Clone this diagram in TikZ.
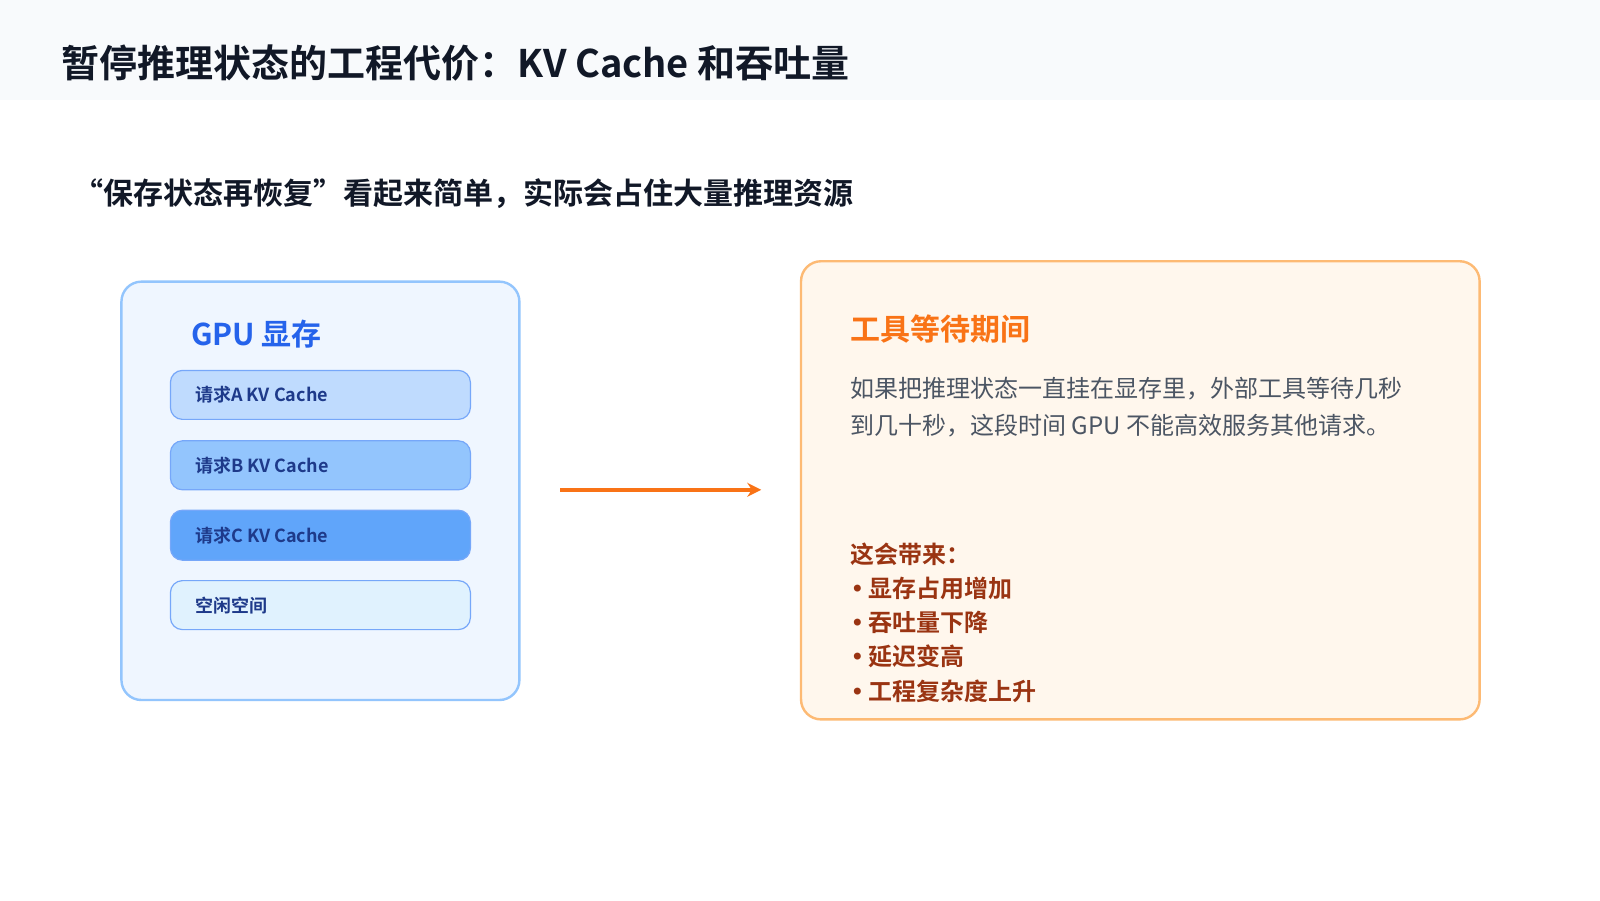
\documentclass[tikz,border=0pt]{standalone}
\usepackage{fontspec}
\setmainfont{Noto Sans CJK SC}
\newfontfamily\cjkb{Noto Sans CJK SC Bold}
\newfontfamily\dv{DejaVu Sans}
\usetikzlibrary{arrows.meta}
\begin{document}
\begin{tikzpicture}[x=0.5102pt,y=-0.5102pt,
  lbl/.style={anchor=west,inner sep=0pt,font=\cjkb\fontsize{9}{11}\selectfont,text=c1E3A8A},
  row/.style={draw=c3B82F6!70,line width=0.6pt,rounded corners=6pt},
  bul/.style={anchor=west,inner sep=0pt,font=\cjkb\fontsize{12}{14}\selectfont,text=c9A3412}]
\definecolor{c1E3A8A}{HTML}{1E3A8A}\definecolor{c3B82F6}{HTML}{3B82F6}
\definecolor{c9A3412}{HTML}{9A3412}
\useasboundingbox (0,0) rectangle (1568,882);
\fill[white] (0,0) rectangle (1568,882);
\fill[fill={rgb,255:red,248;green,250;blue,252}] (0,0) rectangle (1568,98);
\node[anchor=west,inner sep=0pt,font=\cjkb\fontsize{19}{21}\selectfont,text={rgb,255:red,17;green,24;blue,39}] (title) at (60,62) {暂停推理状态的工程代价：KV Cache 和吞吐量};
\node[anchor=west,inner sep=0pt,font=\cjkb\fontsize{15}{17}\selectfont,text={rgb,255:red,17;green,24;blue,39}] (sub) at (72,190) {“保存状态再恢复”看起来简单，实际会占住大量推理资源};
% left
\draw[draw={rgb,255:red,147;green,197;blue,253},fill={rgb,255:red,239;green,246;blue,255},line width=1.2pt,rounded corners=10pt] (119,276) rectangle (509,686);
\node[anchor=west,inner sep=0pt,font=\cjkb\fontsize{15}{17}\selectfont,text={rgb,255:red,37;green,99;blue,235}] (gpu) at (187,327) {GPU 显存};
\draw[row,fill={rgb,255:red,191;green,219;blue,254}] (167,363) rectangle (461,411);
\node[lbl] (ra) at (191,387) {请求A KV Cache};
\draw[row,fill={rgb,255:red,147;green,197;blue,253}] (167,432) rectangle (461,480);
\node[lbl] (rb) at (191,456) {请求B KV Cache};
\draw[row,fill={rgb,255:red,96;green,165;blue,250}] (167,500) rectangle (461,549);
\node[lbl] (rc) at (191,525) {请求C KV Cache};
\draw[row,fill={rgb,255:red,224;green,242;blue,254}] (167,569) rectangle (461,617);
\node[lbl] (rd) at (191,593) {空闲空间};
% arrow
\coordinate (a1) at (549,480); \coordinate (a2) at (746,480);
\draw[draw={rgb,255:red,249;green,115;blue,22},line width=2pt,-{Stealth[length=7pt,width=7pt]}] (a1) -- (a2);
% right
\draw[draw={rgb,255:red,253;green,186;blue,116},fill={rgb,255:red,255;green,247;blue,237},line width=1.2pt,rounded corners=10pt] (785,256) rectangle (1450,705);
\node[anchor=west,inner sep=0pt,font=\cjkb\fontsize{15}{17}\selectfont,text={rgb,255:red,249;green,115;blue,22}] (rt) at (833,322) {工具等待期间};
\node[anchor=west,inner sep=0pt,font=\fontsize{12}{14}\selectfont,text={rgb,255:red,75;green,85;blue,99}] (b1) at (833,381) {如果把推理状态一直挂在显存里，外部工具等待几秒};
\node[anchor=west,inner sep=0pt,font=\fontsize{12}{14}\selectfont,text={rgb,255:red,75;green,85;blue,99}] (b2) at (833,417) {到几十秒，这段时间 GPU 不能高效服务其他请求。};
\node[bul] (h) at (833,543) {这会带来：};
\node[bul] (l1) at (833,577) {{\dv •}\,显存占用增加};
\node[bul] (l2) at (833,610) {{\dv •}\,吞吐量下降};
\node[bul] (l3) at (833,643) {{\dv •}\,延迟变高};
\node[bul] (l4) at (833,677) {{\dv •}\,工程复杂度上升};
\end{tikzpicture}
\end{document}
